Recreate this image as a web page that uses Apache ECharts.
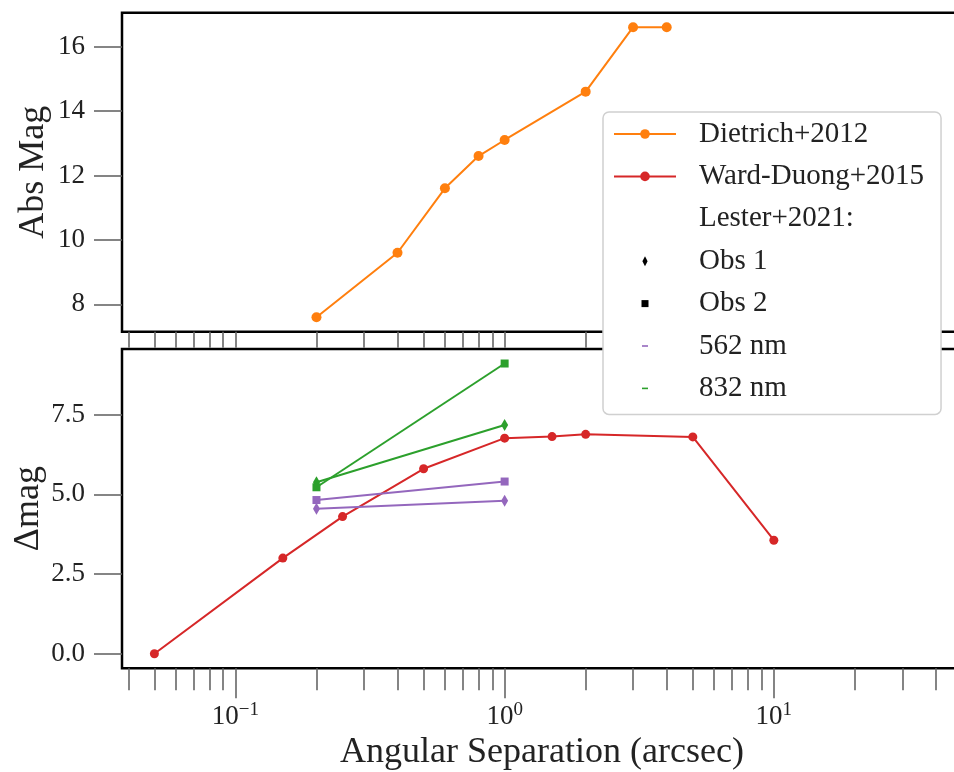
<!DOCTYPE html>
<html>
<head>
<meta charset="utf-8">
<script src="https://cdn.jsdelivr.net/npm/echarts@6/dist/echarts.min.js"></script>
<style>
html,body{margin:0;padding:0;background:#fff;}
#chart{width:954px;height:772px;}
</style>
</head>
<body>
<div id="chart"></div>
<script>
// ---- data ----
var dietrichX = [0.2, 0.4, 0.6, 0.8, 1.0, 2.0, 3.0, 4.0];
var dietrichY = [7.6, 9.6, 11.6, 12.6, 13.1, 14.6, 16.6, 16.6];
var wardX = [0.05, 0.15, 0.25, 0.5, 1.0, 1.5, 2.0, 5.0, 10.0];
var wardY = [0.0, 3.0, 4.3, 5.8, 6.76, 6.81, 6.88, 6.8, 3.56];
var lesterX = [0.2, 1.0];
var lester562Obs1 = [4.55, 4.8];
var lester562Obs2 = [4.82, 5.4];
var lester832Obs1 = [5.38, 7.17];
var lester832Obs2 = [5.22, 9.1];
var xMajorTicks = [0.1, 1, 10];
var xMinorTicks = [0.04, 0.05, 0.06, 0.07, 0.08, 0.09,
                   0.2, 0.3, 0.4, 0.5, 0.6, 0.7, 0.8, 0.9,
                   2, 3, 4, 5, 6, 7, 8, 9, 20, 30, 40];
var xTickExponents = ['−1', '0', '1'];
var yTopTicks = [8, 10, 12, 14, 16];
var yBottomTicks = [0, 2.5, 5, 7.5];
var legendNames = ['Dietrich+2012', 'Ward-Duong+2015', 'Lester+2021:', 'Obs 1', 'Obs 2', '562 nm', '832 nm'];

// ---- styling ----
var FONT = 'Liberation Serif';
var TXT = '#222';
var TICK = '#666';
var ORANGE = '#ff7f0e', RED = '#d62728', GREEN = '#2ca02c', PURPLE = '#9467bd';
var XMIN = 0.0379, XMAX = 50;

function zip(xs, ys) { return xs.map(function (x, i) { return [x, ys[i]]; }); }

function xAxisDef(grid, values, len, labels) {
  var ax = {
    type: 'log', logBase: 10, gridIndex: grid, min: XMIN, max: XMAX, position: 'bottom', offset: 0,
    axisLine: {show: false, onZero: false}, splitLine: {show: false}, minorTick: {show: false},
    axisTick: {show: true, customValues: values, length: len, inside: false,
               lineStyle: {color: TICK, width: 1.6}},
    axisLabel: {show: false}
  };
  if (labels) {
    ax.axisLabel = {
      show: true, customValues: xMajorTicks, margin: 32,
      formatter: function (v) {
        var idx = -1;
        for (var i = 0; i < xMajorTicks.length; i++) {
          if (Math.abs(Math.log10(v) - Math.log10(xMajorTicks[i])) < 1e-6) { idx = i; }
        }
        return idx < 0 ? '' : '{b|10}{s|' + xTickExponents[idx] + '}';
      },
      rich: {
        b: {fontFamily: FONT, fontSize: 27, color: TXT, lineHeight: 30, verticalAlign: 'bottom'},
        s: {fontFamily: FONT, fontSize: 19, color: TXT, lineHeight: 19, verticalAlign: 'top'}
      }
    };
    ax.name = 'Angular Separation (arcsec)';
    ax.nameLocation = 'middle';
    ax.nameGap = 66;
    ax.nameMoveOverlap = false;
    ax.nameTextStyle = {fontFamily: FONT, fontSize: 36, color: TXT};
  }
  return ax;
}

function yAxisDef(grid, min, max, ticks, name, fmt, gap) {
  return {
    type: 'value', gridIndex: grid, min: min, max: max, position: 'left', offset: 0,
    axisLine: {show: false, onZero: false}, splitLine: {show: false},
    axisTick: {show: true, customValues: ticks, length: 28, lineStyle: {color: TICK, width: 1.6}},
    axisLabel: {show: true, customValues: ticks, margin: 37, fontFamily: FONT, fontSize: 27, color: TXT,
                formatter: fmt},
    name: name, nameLocation: 'middle', nameGap: gap, nameMoveOverlap: false,
    nameTextStyle: {fontFamily: FONT, fontSize: 36, color: TXT}
  };
}

function lineSeries(name, xi, yi, data, color, symbol, size) {
  return {
    name: name, type: 'line', xAxisIndex: xi, yAxisIndex: yi, data: data,
    symbol: symbol, symbolSize: size, showSymbol: true, color: color,
    lineStyle: {color: color, width: 2}, itemStyle: {color: color},
    animation: false, clip: false, z: 3
  };
}

function dummy(name, color, symbol) {
  return {name: name, type: 'line', xAxisIndex: 2, yAxisIndex: 1, data: [], color: color,
          symbol: symbol, lineStyle: {color: color, width: 2}, itemStyle: {color: color}};
}

var DIAMOND_LEG = 'path://M0,0 M62,12 M31,1 L33.6,6 L31,11 L28.4,6 Z';
var SQUARE_LEG = 'path://M0,0 M62,12 M27.5,2.5 L34.5,2.5 L34.5,9.5 L27.5,9.5 Z';
var DASH_LEG = 'path://M0,0 M62,12 M28,5.2 L34,5.2 L34,6.8 L28,6.8 Z';
var DIAMOND = 'path://M0,-6 L3.5,0 L0,6 L-3.5,0 Z';

var chart = echarts.init(document.getElementById('chart'), null, {renderer: 'canvas'});
var gridCommon = {left: 122, width: 840, show: true, borderColor: '#000', borderWidth: 2.5,
                  backgroundColor: '#fff', containLabel: false, outerBoundsMode: 'none'};
var option = {
  backgroundColor: '#fff',
  animation: false,
  grid: [
    Object.assign({top: 12.7, height: 319}, gridCommon),
    Object.assign({top: 349, height: 319.3}, gridCommon)
  ],
  xAxis: [
    xAxisDef(0, xMajorTicks, 16, false),
    xAxisDef(0, xMinorTicks, 16, false),
    xAxisDef(1, xMajorTicks, 30, true),
    xAxisDef(1, xMinorTicks, 22, false)
  ],
  yAxis: [
    yAxisDef(0, 7.15, 17.05, yTopTicks, 'Abs Mag', function (v) { return String(v); }, 70),
    yAxisDef(1, -0.455, 9.555, yBottomTicks, 'Δmag', function (v) { return v.toFixed(1); }, 75)
  ],
  legend: {
    left: 603, top: 112, orient: 'vertical', selectedMode: false,
    padding: [7, 17, 11, 10], itemGap: 12.4, itemWidth: 62, itemHeight: 12,
    backgroundColor: '#fff', borderColor: '#d0d0d0', borderWidth: 1.5, borderRadius: 6,
    textStyle: {fontFamily: FONT, fontSize: 29, color: TXT, lineHeight: 30, padding: [0, 0, 0, 18]},
    data: [
      {name: legendNames[0]},
      {name: legendNames[1]},
      {name: legendNames[2], icon: 'none'},
      {name: legendNames[3], icon: DIAMOND_LEG, itemStyle: {color: '#000'}},
      {name: legendNames[4], icon: SQUARE_LEG, itemStyle: {color: '#000'}},
      {name: legendNames[5], icon: DASH_LEG, itemStyle: {color: PURPLE}},
      {name: legendNames[6], icon: DASH_LEG, itemStyle: {color: GREEN}}
    ]
  },
  series: [
    lineSeries(legendNames[0], 0, 0, zip(dietrichX, dietrichY), ORANGE, 'circle', 10),
    lineSeries(legendNames[1], 2, 1, zip(wardX, wardY), RED, 'circle', 9),
    lineSeries('562 nm Obs 1', 2, 1, zip(lesterX, lester562Obs1), PURPLE, DIAMOND, [7, 12]),
    lineSeries('562 nm Obs 2', 2, 1, zip(lesterX, lester562Obs2), PURPLE, 'rect', 8),
    lineSeries('832 nm Obs 1', 2, 1, zip(lesterX, lester832Obs1), GREEN, DIAMOND, [7, 12]),
    lineSeries('832 nm Obs 2', 2, 1, zip(lesterX, lester832Obs2), GREEN, 'rect', 8),
    dummy(legendNames[2], '#fff', 'none'),
    dummy(legendNames[3], '#000', 'diamond'),
    dummy(legendNames[4], '#000', 'rect'),
    dummy(legendNames[5], PURPLE, 'rect'),
    dummy(legendNames[6], GREEN, 'rect')
  ]
};
chart.setOption(option);
</script>
</body>
</html>
